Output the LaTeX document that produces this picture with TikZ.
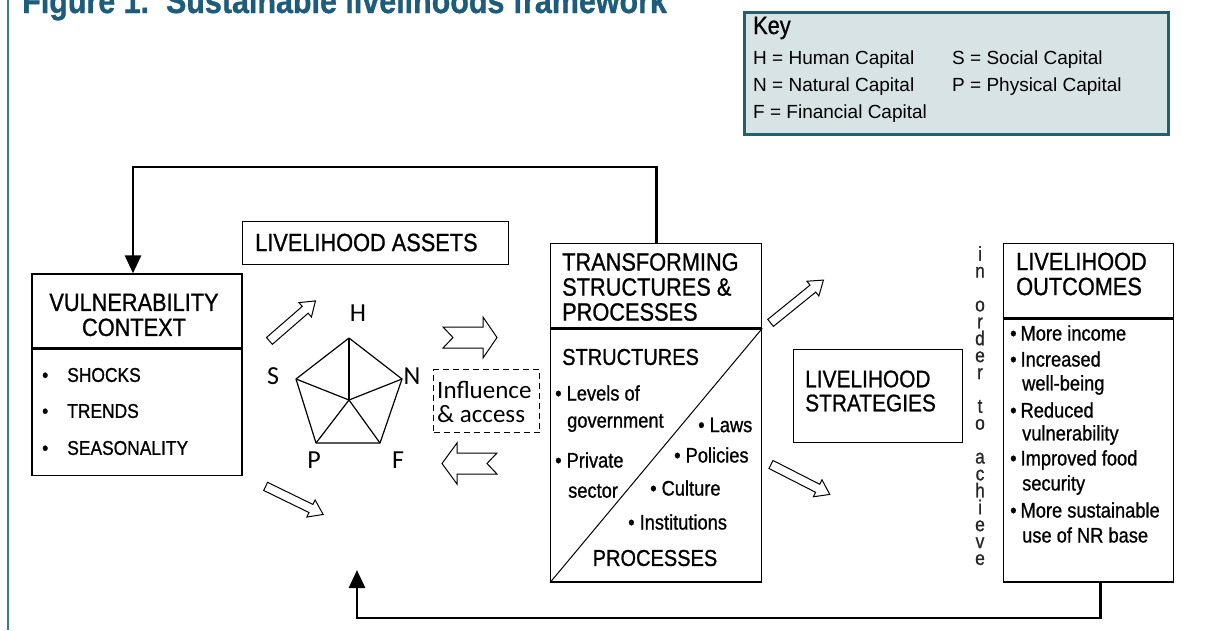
\documentclass[tikz,border=0pt]{standalone}
\usepackage{fontspec}
\setmainfont{Liberation Sans}[FakeStretch=0.87, FakeBold=0.9]
\newfontfamily\calfont{Carlito}
\newfontfamily\keyfont{Liberation Sans}
\usetikzlibrary{positioning,shapes.arrows,arrows.meta}

\definecolor{titleteal}{HTML}{1D5C7A}
\definecolor{keyfill}{HTML}{D8E3E5}
\definecolor{keyedge}{HTML}{22606E}
\definecolor{frameteal}{HTML}{3A7A8F}

\newcommand{\capsbig}{\fontsize{25}{25}\selectfont}
\newcommand{\capsmid}{\fontsize{23}{23}\selectfont}
\newcommand{\itemtext}{\fontsize{21}{21}\selectfont}

\begin{document}
\begin{tikzpicture}[
    x=1pt, y=-1pt,
    box/.style={draw, line width=1.3pt, inner sep=0pt},
    boxhead/.style={anchor=west, inner sep=0pt, align=left, font=\capsbig},
    entry/.style={anchor=west, inner sep=0pt, font=\itemtext},
    keytxt/.style={anchor=west, inner sep=0pt, font=\keyfont\fontsize{19}{19}\selectfont},
    capital/.style={inner sep=0pt, font=\calfont\fontsize{26}{26}\selectfont},
    hollow/.style={single arrow, draw, fill=white, line width=1pt, inner sep=0pt, inner ysep=4pt,
        minimum width=18pt, single arrow head extend=5pt, single arrow tip angle=70},
    chevron/.style={draw, line width=1pt, line join=miter},
    feedback/.style={line width=2.8pt, -{Triangle[length=18pt,width=16pt]}}
]
    \useasboundingbox (0,0) rectangle (1222,630);

    % frame and title
    \draw[frameteal, line width=2.5pt] (8,0) -- (8,630);
    \node[anchor=base west, inner sep=0pt, text=titleteal, font=\fontsize{35}{35}\selectfont\bfseries] (title) at (22,13) {Figure 1.\ \ Sustainable livelihoods framework};

    % Key
    \node[draw=keyedge, fill=keyfill, line width=2.5pt, anchor=north west, minimum width=424pt, minimum height=122pt, inner sep=0pt] (key) at (743,11) {};
    \node[keytxt, font=\fontsize{25}{25}\selectfont] (keyttl) at (753,28) {Key};
    \node[keytxt] (keyh) at (753,60) {H = Human Capital};
    \node[keytxt] (keyn) at (753,87) {N = Natural Capital};
    \node[keytxt] (keyf) at (753,114) {F = Financial Capital};
    \node[keytxt] (keys) at (952,60) {S = Social Capital};
    \node[keytxt] (keyp) at (952,87) {P = Physical Capital};

    % Vulnerability context
    \node[box, minimum width=210pt, minimum height=74pt] (vulnhead) at (137,311) {};
    \node[box, minimum width=210pt, minimum height=126pt, below=0pt of vulnhead] (vulnbody) {};
    \node[boxhead, anchor=center, align=center] (vulnttl) at (134,315) {VULNERABILITY\\CONTEXT};
    \node[entry, font=\fontsize{20}{20}\selectfont] (shocks) at (42,375) {\textbullet\hspace{19pt}SHOCKS};
    \node[entry, font=\fontsize{20}{20}\selectfont] (trends) at (42,411) {\textbullet\hspace{19pt}TRENDS};
    \node[entry, font=\fontsize{20}{20}\selectfont] (season) at (42,448) {\textbullet\hspace{19pt}SEASONALITY};

    % Livelihood assets
    \node[box, anchor=north west, minimum width=266pt, minimum height=43pt] (assets) at (242,221) {};
    \node[boxhead] (assetsttl) at (255,242.5) {LIVELIHOOD ASSETS};

    % asset pentagon
    \coordinate (pC) at (349,400);
    \coordinate (pH) at (349,338);
    \coordinate (pN) at (402,379);
    \coordinate (pF) at (380,443);
    \coordinate (pP) at (316,443);
    \coordinate (pS) at (296,379);
    \draw[line width=1.2pt, line join=round] (pH) -- (pN) -- (pF) -- (pP) -- (pS) -- cycle;
    \foreach \v in {pH,pN,pF,pP,pS}
        \draw[line width=1.2pt] (pC) -- (\v);
    \node[capital] (capH) at (358,313) {H};
    \node[capital] (capS) at (273,376) {S};
    \node[capital] (capN) at (412,376) {N};
    \node[capital] (capP) at (314,460) {P};
    \node[capital] (capF) at (398,460) {F};

    \node[hollow, minimum height=61pt, rotate=41] (vulnup) at (290,323) {};
    \node[hollow, minimum height=64pt, rotate=-26] (vulndown) at (291.5,499) {};

    % Influence & access
    \node[draw, dash pattern=on 6pt off 4pt, line width=1pt, anchor=north west, minimum width=106pt, minimum height=63pt, inner sep=0pt] (infl) at (433,369) {};
    \node[anchor=west, inner sep=0pt, align=left, font=\calfont\fontsize{25}{24}\selectfont] (infltxt) at (437,401.5) {Influence\\\& access};
    \draw[chevron] (443,327) -- (453,337.5) -- (443,348) -- (483,348) -- (483,358) -- (497,337.5) -- (483,317) -- (483,327) -- cycle;
    \draw[chevron] (442,463.5) -- (457,443) -- (457,453) -- (497,453) -- (487,463.5) -- (497,474) -- (457,474) -- (457,484) -- cycle;

    % Transforming structures & processes
    \node[box, anchor=north west, minimum width=211pt, minimum height=84pt] (transhead) at (550,243) {};
    \node[box, minimum width=211pt, minimum height=253pt, below=0pt of transhead] (transbody) {};
    \draw[line width=1pt] (transbody.south west) -- (transbody.north east);
    \node[boxhead] (transttl) at (562,287) {TRANSFORMING\\STRUCTURES \&\\PROCESSES};
    \node[boxhead, font=\capsmid] (structttl) at (562,357) {STRUCTURES};
    \node[entry] (levels) at (555,393) {\textbullet\ Levels of};
    \node[entry] (govt) at (567,423) {government};
    \node[entry] (private) at (555,460) {\textbullet\ Private};
    \node[entry] (sector) at (568,491) {sector};
    \node[entry] (laws) at (698,425) {\textbullet\ Laws};
    \node[entry] (policies) at (674,455) {\textbullet\ Policies};
    \node[entry] (culture) at (650,488) {\textbullet\ Culture};
    \node[entry] (instit) at (628,522) {\textbullet\ Institutions};
    \node[inner sep=0pt, font=\capsmid] (procttl) at (655,558) {PROCESSES};

    % Livelihood strategies
    \node[box, anchor=north west, minimum width=169pt, minimum height=93pt] (strat) at (793,349) {};
    \node[boxhead, font=\fontsize{24}{24}\selectfont] (stratttl) at (805,391) {LIVELIHOOD\\STRATEGIES};
    \node[hollow, minimum height=68pt, rotate=39] (stratup) at (794.5,303.5) {};
    \node[hollow, minimum height=66pt, rotate=-27] (stratdown) at (797.5,478) {};

    % in order to achieve
    \node[anchor=north, inner sep=0pt, align=center, text=black!85, font=\fontsize{20}{16.9}\selectfont] (achieve) at (980,246)
        {i\\n\\[16.9pt]o\\r\\d\\e\\r\\[16.9pt]t\\o\\[16.9pt]a\\c\\h\\i\\e\\v\\e};

    % Livelihood outcomes
    \node[box, anchor=north west, minimum width=170pt, minimum height=74pt] (outhead) at (1003,243) {};
    \node[box, minimum width=170pt, minimum height=263pt, below=0pt of outhead] (outbody) {};
    \node[boxhead] (outttl) at (1016,274) {LIVELIHOOD\\OUTCOMES};
    \node[entry] (income) at (1010,333) {\textbullet\hspace{4pt}More income};
    \node[entry] (wellb) at (1010,359) {\textbullet\hspace{4pt}Increased};
    \node[entry] (wellb2) at (1022,385) {well-being};
    \node[entry] (vuln) at (1010,410) {\textbullet\hspace{4pt}Reduced};
    \node[entry] (vuln2) at (1022,435) {vulnerability};
    \node[entry] (food) at (1010,460) {\textbullet\hspace{4pt}Improved food};
    \node[entry] (food2) at (1022,485) {security};
    \node[entry] (nrbase) at (1010,510) {\textbullet\hspace{4pt}More sustainable};
    \node[entry] (nrbase2) at (1022,535) {use of NR base};

    % feedback loops
    \coordinate (toprail) at (0,167);
    \draw[feedback] (transhead.north) -- (transhead.north |- toprail) -| ([xshift=-4pt]vulnhead.north);
    \coordinate (assetsin) at (357,570);
    \coordinate (botrail) at (0,618);
    \draw[feedback] ([xshift=12pt]outbody.south) |- (botrail -| assetsin) -- (assetsin);

\end{tikzpicture}
\end{document}
